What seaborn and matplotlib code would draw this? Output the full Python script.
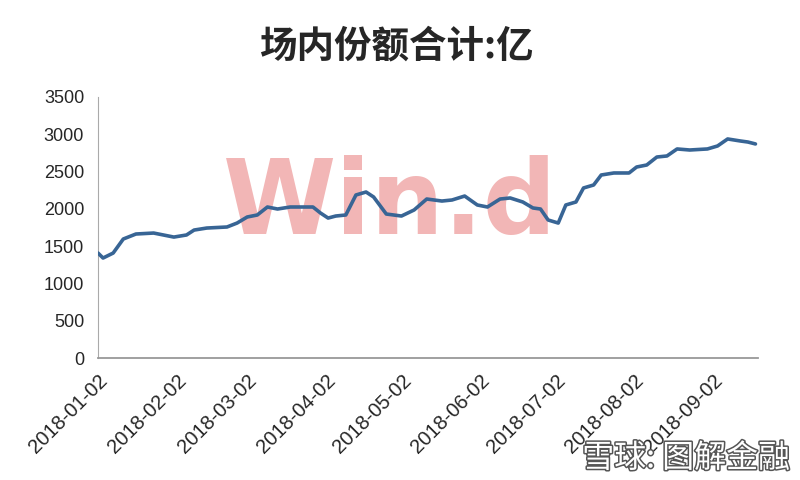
import pandas as pd
import matplotlib
matplotlib.use("Agg")
import matplotlib.pyplot as plt
import matplotlib.patheffects as pe
import seaborn as sns

# 场内份额合计(亿), 点
dates = ["2018-01-02", "2018-01-04", "2018-01-08", "2018-01-12", "2018-01-17", "2018-01-24",
         "2018-02-01", "2018-02-06", "2018-02-09", "2018-02-14", "2018-02-22", "2018-02-26",
         "2018-03-02", "2018-03-06", "2018-03-10", "2018-03-14", "2018-03-19", "2018-03-28",
         "2018-03-31", "2018-04-03", "2018-04-06", "2018-04-10", "2018-04-14", "2018-04-18",
         "2018-04-21", "2018-04-26", "2018-05-02", "2018-05-07", "2018-05-12", "2018-05-18",
         "2018-05-22", "2018-05-27", "2018-06-01", "2018-06-05", "2018-06-10", "2018-06-14",
         "2018-06-19", "2018-06-23", "2018-06-26", "2018-06-29", "2018-07-03", "2018-07-06",
         "2018-07-10", "2018-07-13", "2018-07-17", "2018-07-20", "2018-07-25", "2018-07-31",
         "2018-08-03", "2018-08-07", "2018-08-11", "2018-08-15", "2018-08-19", "2018-08-24",
         "2018-08-31", "2018-09-04", "2018-09-08", "2018-09-13", "2018-09-16", "2018-09-19"]
shares = [1408, 1341, 1408, 1596, 1663, 1676,
          1622, 1650, 1716, 1743, 1757, 1810,
          1891, 1918, 2025, 1998, 2025, 2025,
          1944, 1877, 1904, 1918, 2186, 2226,
          2159, 1931, 1904, 1985, 2132, 2105,
          2119, 2172, 2052, 2025, 2132, 2146,
          2092, 2012, 1998, 1851, 1810, 2052,
          2092, 2280, 2320, 2454, 2481, 2481,
          2561, 2588, 2695, 2709, 2803, 2789,
          2803, 2843, 2937, 2910, 2896, 2870]

tick_dates = ["2018-01-02", "2018-02-02", "2018-03-02", "2018-04-02", "2018-05-02",
              "2018-06-02", "2018-07-02", "2018-08-02", "2018-09-02"]
y_ticks = [0, 500, 1000, 1500, 2000, 2500, 3000, 3500]

df = pd.DataFrame({"date": pd.to_datetime(dates), "share": shares})

sns.set_style("white")
plt.rcParams['font.family'] = ['Noto Sans CJK SC', 'DejaVu Sans']

fig = plt.figure(figsize=(8, 4.8), dpi=100)
ax = fig.add_axes([0.1225, 0.254, 0.825, 0.544])

# 水印 Win.d
ax.text(0.442, 0.585, "Win.d", transform=ax.transAxes, ha="center", va="center",
        fontsize=74, fontweight="bold", color="#f0a9a9", alpha=0.85,
        family="DejaVu Sans", zorder=0)

sns.lineplot(data=df, x="date", y="share", color="#386595", linewidth=2.6, ax=ax, zorder=3)

ax.set_ylim(0, 3500)
ax.set_xlim(pd.Timestamp("2018-01-02"), pd.Timestamp("2018-09-20"))
ax.set_yticks(y_ticks)
ax.set_yticklabels([str(v) for v in y_ticks], family="Liberation Sans", fontsize=13)
ax.set_xticks(pd.to_datetime(tick_dates))
ax.set_xticklabels(tick_dates, rotation=45, ha="right", rotation_mode="anchor",
                   family="Liberation Sans", fontsize=14.5)
ax.tick_params(axis="x", direction="out", length=5, color="#999999", pad=4)
ax.tick_params(axis="y", direction="out", length=4, color="#999999", pad=6)
ax.set_xlabel("")
ax.set_ylabel("")
for s in ["top", "right"]:
    ax.spines[s].set_visible(False)
ax.spines["left"].set_color("#aaaaaa")
ax.spines["bottom"].set_color("#999999")
ax.spines["bottom"].set_linewidth(1.3)

fig.text(0.496, 0.905, "场内份额合计:亿", ha="center", va="center", fontsize=27,
         fontweight="bold")

# 右下角 雪球 水印
fig.text(0.988, 0.045, "雪球: 图解金融", ha="right", va="center", fontsize=23,
         color="white", path_effects=[pe.withStroke(linewidth=2.2, foreground="#555555")])

fig.savefig("out.png", dpi=100)
